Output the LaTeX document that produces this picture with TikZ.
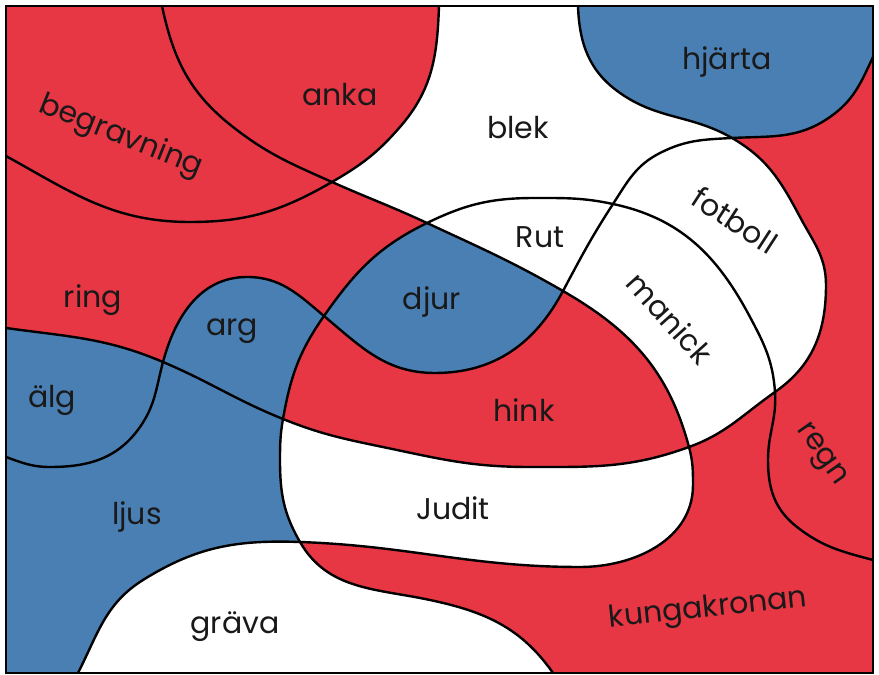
\documentclass[tikz,border=0pt]{standalone}
\usepackage{fontspec}
\setmainfont{Poppins}
\definecolor{mapred}{RGB}{231,54,68}
\definecolor{mapblue}{RGB}{74,127,180}
\begin{document}
\begin{tikzpicture}[x=1pt,y=1pt,
  curve/.style={draw=black,line width=2.4pt,line join=round,line cap=round},
  lbl/.style={font=\fontsize{30}{35}\selectfont,text=black!90,inner sep=0pt}]
\useasboundingbox (0,0) rectangle (879,675);
% knots
\coordinate (K1) at (162,669);
\coordinate (K2) at (439,669);
\coordinate (K3) at (578,669);
\coordinate (K4) at (873,618);
\coordinate (K5) at (6,519);
\coordinate (K6) at (6,347);
\coordinate (K7) at (6,218);
\coordinate (K8) at (78,2);
\coordinate (K9) at (553,2);
\coordinate (K10) at (873,115);
\coordinate (Xa) at (332,493);
\coordinate (Xb) at (427,452);
\coordinate (Xc) at (563,384);
\coordinate (Xd) at (613,471);
\coordinate (Xe) at (732,537);
\coordinate (Xf) at (775,283);
\coordinate (Xg) at (689,228);
\coordinate (Xh) at (300,133);
\coordinate (Xi) at (283,256);
\coordinate (Xj) at (324,359);
\coordinate (Xk) at (163,313);
\coordinate (A1) at (50,208);
\coordinate (A2) at (140,248);
\coordinate (A3) at (247,398);
\coordinate (A4) at (435,302);
\coordinate (A5) at (660,522);
\coordinate (A6) at (830,558);
\coordinate (B1) at (620,582);
\coordinate (B1b) at (800,458);
\coordinate (B2) at (826,390);
\coordinate (B3) at (530,208);
\coordinate (B4) at (397,225);
\coordinate (C3a) at (233,548);
\coordinate (C3b) at (693,190);
\coordinate (C3c) at (580,108);
\coordinate (C3d) at (143,95);
\coordinate (D1) at (430,75);
\coordinate (D2) at (280,215);
\coordinate (D3) at (535,477);
\coordinate (D4) at (750,358);
\coordinate (D5) at (768,215);
\coordinate (D6) at (797,148);
\coordinate (E1) at (190,453);
\coordinate (E2) at (400,548);
% background
\fill[mapred] (6,2) rectangle (873,669);
% white: blek, Rut, fotboll, manick
\fill[white] (K2) -- (K3) to[out=-88,in=145] (B1) to[out=-35,in=150] (Xe)
  to[out=-30,in=118] (B1b) to[out=-62,in=90] (B2) to[out=-90,in=35] (Xf)
  to[out=215,in=20] (Xg) to[out=105,in=-30] (Xc) to[out=150,in=-25] (Xb)
  to[out=155,in=-24] (Xa) to[out=30,in=229] (E2) to[out=49,in=268] (K2) -- cycle;
% blue: hjarta
\fill[mapblue] (K3) -- (873,669) -- (K4) to[out=245,in=35] (A6) to[out=215,in=3] (Xe)
  to[out=150,in=-35] (B1) to[out=145,in=-88] (K3) -- cycle;
% blue: djur
\fill[mapblue] (Xb) to[out=-25,in=150] (Xc) to[out=242,in=0] (A4) to[out=180,in=-40] (Xj)
  to[out=55,in=-154] (Xb) -- cycle;
% blue: alg, ljus, arg
\fill[mapblue] (K6) -- (6,2) -- (K8) to[out=63,in=212] (C3d) to[out=32,in=178] (Xh)
  to[out=120,in=-90] (D2) to[out=90,in=-100] (Xi) to[out=80,in=-125] (Xj)
  to[out=140,in=0] (A3) to[out=180,in=75] (Xk) to[out=157,in=-8] (K6) -- cycle;
% white: Judit
\fill[white] (Xi) to[out=-22,in=168] (B4) to[out=-12,in=180] (B3) to[out=0,in=200] (Xg)
  to[out=-75,in=90] (C3b) to[out=-90,in=0] (C3c) to[out=180,in=-2] (Xh)
  to[out=120,in=-90] (D2) to[out=90,in=-100] (Xi) -- cycle;
% white: grava
\fill[white] (K8) to[out=63,in=212] (C3d) to[out=32,in=178] (Xh)
  to[out=-60,in=168] (D1) to[out=-12,in=125] (K9) -- cycle;
% curves
\draw[curve] (K7) to[out=-20,in=180] (A1) to[out=0,in=235] (A2) to[out=55,in=255] (Xk)
  to[out=75,in=180] (A3) to[out=0,in=140] (Xj) to[out=-40,in=180] (A4)
  to[out=0,in=242] (Xc) to[out=62,in=237] (Xd) to[out=57,in=207] (A5)
  to[out=27,in=183] (Xe) to[out=3,in=215] (A6) to[out=35,in=245] (K4);
\draw[curve] (K3) to[out=-88,in=145] (B1) to[out=-35,in=150] (Xe) to[out=-30,in=118] (B1b)
  to[out=-62,in=90] (B2) to[out=-90,in=35] (Xf) to[out=215,in=20] (Xg)
  to[out=200,in=0] (B3) to[out=180,in=-12] (B4) to[out=168,in=-22] (Xi)
  to[out=158,in=-23] (Xk) to[out=157,in=-8] (K6);
\draw[curve] (K1) to[out=-78,in=142] (C3a) to[out=-38,in=156] (Xa) to[out=-24,in=155] (Xb)
  to[out=-25,in=150] (Xc) to[out=-30,in=105] (Xg) to[out=-75,in=90] (C3b)
  to[out=-90,in=0] (C3c) to[out=180,in=-2] (Xh) to[out=178,in=32] (C3d)
  to[out=212,in=63] (K8);
\draw[curve] (K9) to[out=125,in=-12] (D1) to[out=168,in=-60] (Xh) to[out=120,in=-90] (D2)
  to[out=90,in=-100] (Xi) to[out=80,in=-125] (Xj) to[out=55,in=-154] (Xb)
  to[out=26,in=180] (D3) to[out=0,in=168] (Xd) to[out=-12,in=118] (D4)
  to[out=-62,in=94] (Xf) to[out=-86,in=90] (D5) to[out=-90,in=142] (D6)
  to[out=-38,in=165] (K10);
\draw[curve] (K5) to[out=-29,in=180] (E1) to[out=0,in=210] (Xa) to[out=30,in=229] (E2)
  to[out=49,in=268] (K2);
% border
\draw[line width=2.2pt] (6,2) rectangle (873,669);
% labels
\node[lbl] (anka) at (340,580) {anka};
\node[lbl,rotate=-22] (begravning) at (121,538) {begravning};
\node[lbl] (blek) at (518,547) {blek};
\node[lbl] (hjarta) at (727,613) {hjärta};
\node[lbl,rotate=-33] (fotboll) at (735,455) {fotboll};
\node[lbl] (Rut) at (540,438) {Rut};
\node[lbl,rotate=-48] (manick) at (670,357) {manick};
\node[lbl] (djur) at (432,373) {djur};
\node[lbl] (ring) at (93,375) {ring};
\node[lbl] (arg) at (232,344) {arg};
\node[lbl] (alg) at (52,275) {älg};
\node[lbl] (hink) at (524,265) {hink};
\node[lbl] (ljus) at (137,158) {ljus};
\node[lbl] (Judit) at (453,167) {Judit};
\node[lbl] (grava) at (235,48) {gräva};
\node[lbl,rotate=6] (kungakronan) at (708,65) {kungakronan};
\node[lbl,rotate=-55] (regn) at (820,220) {regn};
\end{tikzpicture}
\end{document}
